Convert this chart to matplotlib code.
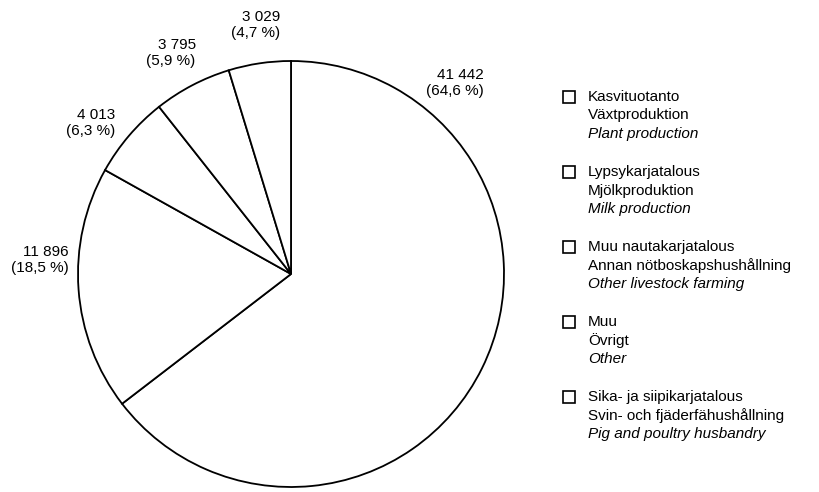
import matplotlib
matplotlib.use("Agg")
import matplotlib.pyplot as plt
import numpy as np
from matplotlib.patches import Rectangle

plt.rcParams['font.family'] = ['Liberation Sans Narrow', 'Liberation Sans', 'DejaVu Sans']

# ---- data ----
values = [41442, 11896, 4013, 3795, 3029]
names_fi = ["Kasvituotanto", "Lypsykarjatalous", "Muu nautakarjatalous", "Muu",
            "Sika- ja siipikarjatalous"]
names_sv = ["Växtproduktion", "Mjölkproduktion", "Annan nötboskapshushållning", "Övrigt",
            "Svin- och fjäderfähushållning"]
names_en = ["Plant production", "Milk production", "Other livestock farming", "Other",
            "Pig and poultry husbandry"]
# legend order (indices into values)
legend_order = [0, 1, 2, 3, 4]

# label placement angles (degrees, counter-clockwise from +x)
label_angles = [49.4, 176.8, 143.0, 118.5, 98.0]
label_dist = 1.18

W, H = 819, 492
fig = plt.figure(figsize=(W / 100, H / 100), dpi=100)
fig.patch.set_facecolor("white")

cx, cy, r = 291, 274, 213
ax = fig.add_axes([(cx - r) / W, (H - cy - r) / H, 2 * r / W, 2 * r / H])
wedges, _ = ax.pie(values, startangle=90, counterclock=False, radius=1,
                   colors=["white"] * len(values),
                   wedgeprops=dict(edgecolor="black", linewidth=1.3))
ax.set_xlim(-1, 1)
ax.set_ylim(-1, 1)
ax.set_axis_off()

total = sum(values)

def fmt_int(v):
    return f"{v:,}".replace(",", " ")

for v, ang in zip(values, label_angles):
    pct = v / total * 100
    txt = f"{fmt_int(v)}\n({pct:.1f} %)".replace(".", ",")
    a = np.deg2rad(ang)
    ax.text(label_dist * np.cos(a), label_dist * np.sin(a), txt,
            ha="center", va="center", multialignment="right",
            fontsize=11, clip_on=False)

# ---- legend (manual) ----
y0 = 97       # first line center (px from top)
pitch = 75
line = 18.5
xs, xt = 563, 588
for k, i in enumerate(legend_order):
    yc = y0 + k * pitch
    fig.patches.append(Rectangle((xs / W, 1 - (yc + 6) / H), 12 / W, 12 / H,
                                 transform=fig.transFigure, facecolor="white",
                                 edgecolor="black", linewidth=1.2))
    fig.text(xt / W, 1 - yc / H, names_fi[i], ha="left", va="center", fontsize=11)
    fig.text(xt / W, 1 - (yc + line) / H, names_sv[i], ha="left", va="center", fontsize=11)
    fig.text(xt / W, 1 - (yc + 2 * line) / H, names_en[i], ha="left", va="center",
             fontsize=11, style="italic")

fig.savefig("out.png", dpi=100, facecolor="white")
